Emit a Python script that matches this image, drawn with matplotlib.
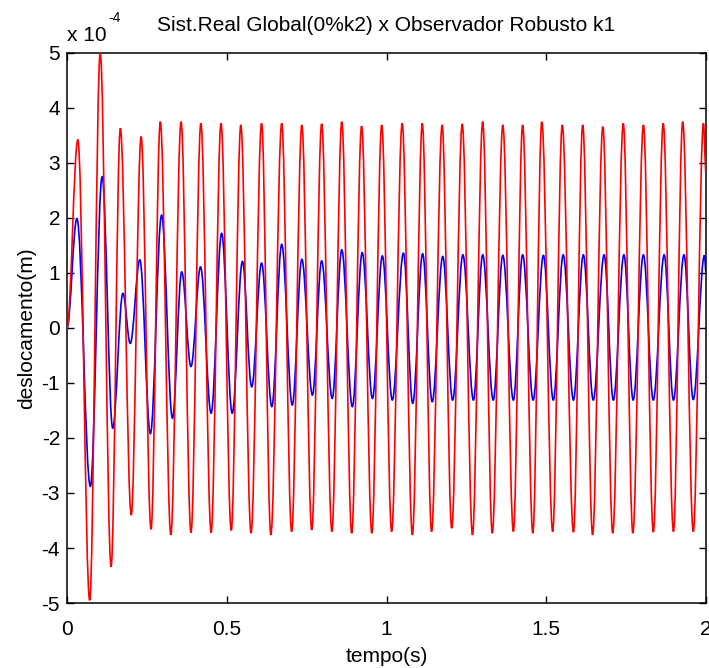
import matplotlib
matplotlib.use("Agg")
import matplotlib.pyplot as plt
from matplotlib.path import Path
from matplotlib.patches import PathPatch
from matplotlib.ticker import FuncFormatter

plt.rcParams['font.family'] = ['Liberation Sans', 'DejaVu Sans']

SCALE = 1e-4

# sistema real: picos e vales (tempo em s, deslocamento em 1e-4 m)
t_real = [0.000, 0.034, 0.071, 0.104, 0.138, 0.167, 0.201, 0.232, 0.263, 0.292,
          0.325, 0.357, 0.388, 0.419, 0.451, 0.482, 0.514, 0.544, 0.576, 0.609,
          0.638, 0.672, 0.703, 0.735, 0.766, 0.797, 0.829, 0.860, 0.891, 0.922,
          0.954, 0.985, 1.016, 1.049, 1.081, 1.112, 1.141, 1.174, 1.204, 1.237,
          1.269, 1.301, 1.331, 1.364, 1.397, 1.426, 1.458, 1.486, 1.520, 1.550,
          1.585, 1.614, 1.645, 1.677, 1.708, 1.741, 1.771, 1.804, 1.835, 1.866,
          1.898, 1.927, 1.960, 1.992, 2.000]
x_real = [0.00, 3.42, -4.95, 5.00, -4.34, 3.63, -3.40, 3.48, -3.66, 3.75,
          -3.76, 3.75, -3.72, 3.72, -3.72, 3.72, -3.68, 3.69, -3.73, 3.72,
          -3.76, 3.72, -3.70, 3.69, -3.67, 3.71, -3.70, 3.75, -3.73, 3.67,
          -3.73, 3.69, -3.70, 3.72, -3.76, 3.72, -3.70, 3.69, -3.64, 3.71,
          -3.76, 3.75, -3.73, 3.69, -3.70, 3.69, -3.73, 3.75, -3.70, 3.69,
          -3.71, 3.69, -3.76, 3.66, -3.73, 3.72, -3.73, 3.69, -3.71, 3.72,
          -3.70, 3.75, -3.70, 3.72, 2.80]

# observador robusto k1
t_obs = [0.000, 0.031, 0.073, 0.110, 0.143, 0.175, 0.198, 0.228, 0.261, 0.296,
         0.330, 0.359, 0.388, 0.418, 0.451, 0.484, 0.517, 0.549, 0.578, 0.609,
         0.641, 0.672, 0.705, 0.735, 0.768, 0.797, 0.830, 0.860, 0.893, 0.924,
         0.956, 0.987, 1.018, 1.053, 1.082, 1.113, 1.143, 1.176, 1.207, 1.239,
         1.272, 1.301, 1.334, 1.364, 1.397, 1.426, 1.459, 1.491, 1.522, 1.553,
         1.585, 1.616, 1.647, 1.681, 1.710, 1.743, 1.772, 1.804, 1.835, 1.869,
         1.898, 1.931, 1.960, 1.995, 2.000]
x_obs = [0.00, 1.99, -2.88, 2.75, -1.82, 0.63, -0.28, 1.24, -1.92, 2.05,
         -1.64, 1.02, -0.70, 1.11, -1.55, 1.72, -1.55, 1.21, -1.07, 1.18,
         -1.43, 1.52, -1.40, 1.25, -1.22, 1.22, -1.28, 1.42, -1.43, 1.37,
         -1.28, 1.31, -1.31, 1.36, -1.37, 1.35, -1.34, 1.30, -1.31, 1.33,
         -1.31, 1.33, -1.31, 1.32, -1.31, 1.33, -1.31, 1.32, -1.31, 1.33,
         -1.31, 1.33, -1.31, 1.33, -1.31, 1.33, -1.31, 1.33, -1.31, 1.33,
         -1.31, 1.33, -1.30, 1.32, 1.02]

x_ticks = [0, 0.5, 1, 1.5, 2]
x_ticklabels = ["0", "0.5", "1", "1.5", "2"]
y_ticks = [-5, -4, -3, -2, -1, 0, 1, 2, 3, 4, 5]


def smooth_path(ts, vs):
    # cubic segments with flat tangents at each extremum (half-cosine shape)
    verts = [(ts[0], vs[0] * SCALE)]
    codes = [Path.MOVETO]
    for i in range(1, len(ts)):
        t0, t1 = ts[i - 1], ts[i]
        v0, v1 = vs[i - 1] * SCALE, vs[i] * SCALE
        h = 0.364 * (t1 - t0)
        verts += [(t0 + h, v0), (t1 - h, v1), (t1, v1)]
        codes += [Path.CURVE4] * 3
    return Path(verts, codes)


fig = plt.figure(figsize=(7.09, 6.68), dpi=100)
ax = fig.add_axes([0.0945, 0.0973, 0.9013, 0.8234])

ax.add_patch(PathPatch(smooth_path(t_obs, x_obs), fill=False, edgecolor="blue",
                       lw=1.2, zorder=2))
ax.add_patch(PathPatch(smooth_path(t_real, x_real), fill=False, edgecolor="red",
                       lw=1.2, zorder=3))

ax.set_xlim(0, 2)
ax.set_ylim(-5 * SCALE, 5 * SCALE)
ax.set_xticks(x_ticks)
ax.set_xticklabels(x_ticklabels)
ax.set_yticks([v * SCALE for v in y_ticks])
ax.yaxis.set_major_formatter(FuncFormatter(lambda v, p: "%d" % round(v / SCALE)))

ax.tick_params(direction="in", length=5, width=1, top=True, right=True,
               labelsize=15, pad=5)
ax.tick_params(axis="x", pad=12)
for s in ax.spines.values():
    s.set_linewidth(1.1)

ax.text(0.0, 1.015, "x 10", transform=ax.transAxes, fontsize=15,
        ha="left", va="bottom")
ax.text(0.064, 1.05, "-4", transform=ax.transAxes, fontsize=10,
        ha="left", va="bottom")
ax.set_title("Sist.Real Global(0%k2) x Observador Robusto k1", fontsize=15, pad=16)
ax.set_xlabel("tempo(s)", fontsize=15, labelpad=6)
ax.set_ylabel("deslocamento(m)", fontsize=15, labelpad=4)

fig.savefig("out.png", dpi=100)
